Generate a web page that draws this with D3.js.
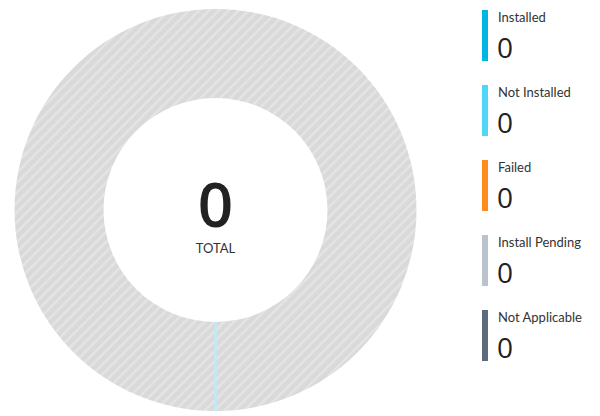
<!DOCTYPE html>
<html>
	<head>
		<meta charset="utf-8">
		<title>Update status</title>
		<style>
			html, body { margin: 0; padding: 0; background: #ffffff; }
			svg { display: block; }
		</style>
	</head>
	<body>
		<div id="chart"></div>

		<script src="https://cdn.jsdelivr.net/npm/d3@7"></script>
		<script>
			// Chart data
			var categories = ["Installed", "Not Installed", "Failed", "Install Pending", "Not Applicable"];
			var values = [0, 0, 0, 0, 0];
			var colors = ["#01b4e4", "#50d6f6", "#fd8c1c", "#bac3cb", "#5b6b7b"];
			var totalLabel = "TOTAL";

			(function(){
				"use strict";

				var width = 600;
				var height = 416;

				var cx = 215.5, cy = 210;
				var outerR = 201, innerR = 112;

				var svg = d3.select("#chart")
					.append("svg")
						.attr("width", width)
						.attr("height", height);

				// Hatched pattern for the empty ring
				var defs = svg.append("defs");
				var pat = defs.append("pattern")
					.attr("id", "hatch")
					.attr("patternUnits", "userSpaceOnUse")
					.attr("width", 7)
					.attr("height", 7)
					.attr("patternTransform", "rotate(45)");
				pat.append("rect")
					.attr("width", 7)
					.attr("height", 7)
					.attr("fill", "#d9d9d9");
				pat.append("rect")
					.attr("width", 2.5)
					.attr("height", 7)
					.attr("fill", "#e4e4e4");

				var total = d3.sum(values);

				var g = svg.append("g")
					.attr("transform", "translate(" + cx + "," + cy + ")");

				var arc = d3.arc()
					.innerRadius(innerR)
					.outerRadius(outerR);

				// Empty state ring
				g.append("path")
					.attr("d", arc({startAngle: 0, endAngle: 2 * Math.PI}))
					.attr("fill", "url(#hatch)");

				// Slices (all zero, so nothing visible except the seam)
				var pie = d3.pie().sort(null).startAngle(Math.PI).endAngle(3 * Math.PI);
				var arcs = pie(values);
				g.selectAll("path.slice")
					.data(arcs)
					.enter().append("path")
						.attr("class", "slice")
						.attr("d", arc)
						.attr("fill", function(d, i){ return colors[i]; });

				// seam line where the slices start
				var a0 = arcs[1].startAngle;
				g.append("line")
					.attr("x1", innerR * Math.sin(a0))
					.attr("y1", -innerR * Math.cos(a0))
					.attr("x2", outerR * Math.sin(a0))
					.attr("y2", -outerR * Math.cos(a0))
					.attr("stroke", "#bfeaf8")
					.attr("stroke-width", 2.5);

				// Center total
				g.append("text")
					.attr("x", 0)
					.attr("y", 17)
					.attr("text-anchor", "middle")
					.style("font-family", "Open Sans, sans-serif")
					.style("font-size", "62px")
					.style("font-weight", "600")
					.style("fill", "#222222")
					.text(total);

				g.append("text")
					.attr("x", 0)
					.attr("y", 43)
					.attr("text-anchor", "middle")
					.style("font-family", "Lato, sans-serif")
					.style("font-size", "13px")
					.style("fill", "#333333")
					.text(totalLabel);

				// Legend
				var y = d3.scaleBand()
					.domain(d3.range(categories.length))
					.range([8, 383]);

				var legend = svg.append("g")
					.selectAll("g")
					.data(categories)
					.enter().append("g")
						.attr("transform", function(d, i){ return "translate(482," + y(i) + ")"; });

				legend.append("rect")
					.attr("x", 0)
					.attr("y", 2)
					.attr("width", 6)
					.attr("height", 51)
					.attr("fill", function(d, i){ return colors[i]; });

				legend.append("text")
					.attr("x", 16)
					.attr("y", 14)
					.style("font-family", "Lato, sans-serif")
					.style("font-size", "13px")
					.style("fill", "#333333")
					.text(function(d){ return d; });

				legend.append("text")
					.attr("x", 15)
					.attr("y", 50)
					.style("font-family", "Open Sans, sans-serif")
					.style("font-size", "28px")
					.style("fill", "#222222")
					.text(function(d, i){ return values[i]; });

			})();
		</script>
	</body>
</html>
